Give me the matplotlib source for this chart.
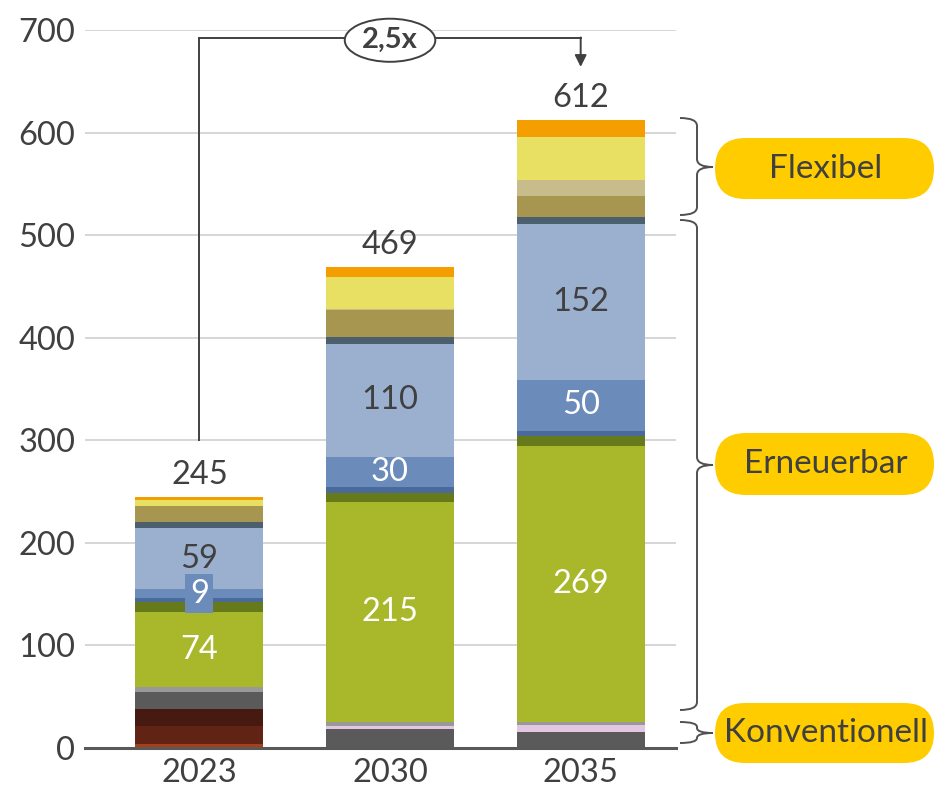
import matplotlib
matplotlib.use("Agg")
import matplotlib.pyplot as plt
import numpy as np
from matplotlib.path import Path
from matplotlib.patches import PathPatch, FancyBboxPatch, Ellipse

plt.rcParams['font.family'] = ['Lato', 'DejaVu Sans']

years = ["2023", "2030", "2035"]

# Series from bottom to top (values in GW)
s_oel        = [4, 0, 0]
s_braunkohle = [17, 0, 0]
s_steinkohle = [17, 0, 0]
s_erdgas     = [17, 19, 16]
s_wasserst   = [0, 2, 6]
s_sonst_konv = [4, 4, 3]
s_pv         = [74, 215, 269]
s_biomasse   = [9, 9, 10]
s_wasser     = [4, 5, 5]
s_offshore   = [9, 30, 50]
s_onshore    = [59, 110, 152]
s_sonst_ee   = [6, 7, 7]
s_pumpsp     = [16, 26, 20]
s_dsm        = [0, 1, 16]
s_batterie   = [6, 31, 42]
s_sonst_flex = [3, 10, 16]

totals = [245, 469, 612]

series = [s_oel, s_braunkohle, s_steinkohle, s_erdgas, s_wasserst, s_sonst_konv,
          s_pv, s_biomasse, s_wasser, s_offshore, s_onshore, s_sonst_ee,
          s_pumpsp, s_dsm, s_batterie, s_sonst_flex]
colors = ['#A5401B', '#602314', '#461A10', '#5A5A5A', '#E2C6E2', '#999999',
          '#A8B82A', '#667A1C', '#4A6A9C', '#6B8CBA', '#9BB0CE', '#4B5F6E',
          '#A69650', '#C8BC8A', '#E8E062', '#F59E00']

# labelled series: index -> text color
label_series = {6: 'white', 9: 'white', 10: '#404040'}

FS = 23.5
W, H = 935, 792
fig = plt.figure(figsize=(W / 100, H / 100), dpi=100)
ax = fig.add_axes([85 / W, 1 - 748 / H, (676 - 85) / W, (748 - 30) / H])

x = np.arange(len(years))
bw = 0.672
bottom = np.zeros(len(years))
TXT = '#404040'
for i, (vals, c) in enumerate(zip(series, colors)):
    vals = np.array(vals, dtype=float)
    ax.bar(x, vals, bw, bottom=bottom, color=c, edgecolor='none', zorder=3)
    if i in label_series:
        for j in range(len(years)):
            yc = bottom[j] + vals[j] / 2
            if i == 9 and j == 0:
                ax.text(x[j], yc, f"{int(vals[j])}", ha='center', va='center',
                        fontsize=FS, color='white', zorder=5,
                        bbox=dict(boxstyle='square,pad=0.14', fc=c, ec='none'))
            else:
                ax.text(x[j], yc, f"{int(vals[j])}", ha='center', va='center',
                        fontsize=FS, color=label_series[i], zorder=5)
    bottom += vals

for j in range(len(years)):
    ax.annotate(f"{totals[j]}", xy=(x[j], totals[j]), xytext=(0, 5),
                textcoords='offset points', ha='center', va='bottom',
                fontsize=FS, color=TXT, zorder=5)

ax.set_xlim(-0.6, 2.5)
ax.set_ylim(0, 700)
ax.set_yticks(range(0, 701, 100))
ax.set_xticks(x)
ax.set_xticklabels(years)
ax.tick_params(axis='both', length=0, labelsize=FS, colors=TXT)
ax.tick_params(axis='y', pad=7)
ax.tick_params(axis='x', pad=7)
ax.grid(axis='y', color='#D0D0D0', lw=1.2, zorder=0)
for s in ['top', 'right', 'left']:
    ax.spines[s].set_visible(False)
ax.spines['bottom'].set_color('#595959')
ax.spines['bottom'].set_linewidth(2.2)
ax.spines['bottom'].set_zorder(4)

# growth arrow
lc = '#404040'
ax.plot([0, 0], [300, 692], color=lc, lw=1.4, zorder=6, clip_on=False)
ax.plot([0, 2], [692, 692], color=lc, lw=1.4, zorder=6, clip_on=False)
ax.annotate('', xy=(2, 664), xytext=(2, 692.7),
            arrowprops=dict(arrowstyle='-|>,head_width=0.35,head_length=0.7',
                            color=lc, lw=1.4, shrinkA=0, shrinkB=0), zorder=6)
ax.add_patch(Ellipse((1, 690), 0.475, 42, fc='white', ec=lc, lw=1.4, zorder=7,
                     clip_on=False))
ax.text(1, 690, "2,5x", ha='center', va='center', fontsize=21, fontweight='bold',
        color=TXT, zorder=8)

# overlay in pixel coordinates for braces and labels
ov = fig.add_axes([0, 0, 1, 1])
ov.set_xlim(0, W)
ov.set_ylim(H, 0)
ov.axis('off')
ov.patch.set_alpha(0)


def brace(yt, yb, ym, x0=680, x1=697, x2=713, r=8):
    r = min(r, (yb - yt) / 4)
    verts = [(x0, yt), (x1, yt), (x1, yt + r),
             (x1, ym - r), (x1, ym), (x2, ym),
             (x1, ym), (x1, ym + r),
             (x1, yb - r), (x1, yb), (x0, yb)]
    codes = [Path.MOVETO, Path.CURVE3, Path.CURVE3,
             Path.LINETO, Path.CURVE3, Path.CURVE3,
             Path.CURVE3, Path.CURVE3,
             Path.LINETO, Path.CURVE3, Path.CURVE3]
    ov.add_patch(PathPatch(Path(verts, codes), fc='none', ec='#505050', lw=1.4))


def pill(y0, y1, text):
    h = y1 - y0
    ov.add_patch(FancyBboxPatch((715, y0), 219, h,
                                boxstyle=f'round,pad=0,rounding_size={h/2}',
                                fc='#FFCC00', ec='none'))
    ov.text(826, (y0 + y1) / 2, text, ha='center', va='center', fontsize=24,
            color=TXT)


brace(118, 215, 167)
brace(220, 710, 465)
brace(722, 743, 733, r=5)
pill(138, 199, "Flexibel")
pill(433, 495, "Erneuerbar")
pill(703, 763, "Konventionell")

fig.savefig("out.png", dpi=100)
